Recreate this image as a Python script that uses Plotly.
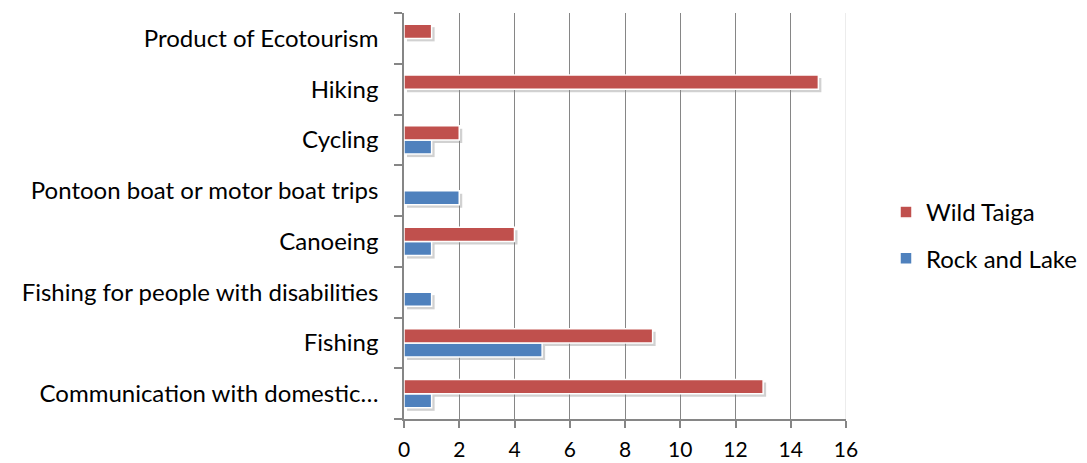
import plotly.graph_objects as go

# Activities, listed bottom-to-top as plotted
categories = [
    "Communication with domestic…",
    "Fishing",
    "Fishing for people with disabilities",
    "Canoeing",
    "Pontoon boat or motor boat trips",
    "Cycling",
    "Hiking",
    "Product of Ecotourism",
]
wild_taiga = [13, 9, 0, 4, 0, 2, 15, 1]
rock_and_lake = [1, 5, 1, 1, 2, 1, 0, 0]
x_ticks = [0, 2, 4, 6, 8, 10, 12, 14, 16]

RED = "#C0504D"
BLUE = "#4F81BD"
GRID = "#868686"
SHADOW = "rgba(0,0,0,0.18)"
FONT = "Lato"
FSIZE = 24

# Pixel geometry: main plot area plus a small drop-shadow offset
L, T = 404, 13
PW, PH = 442, 406
DX, DY = 3, 3
W, H = 1087, 463
AW, AH = PW + DX, PH + DY

fig = go.Figure()

# Drop shadows: same bars in a subplot nudged right and down, drawn first
for vals in (rock_and_lake, wild_taiga):
    fig.add_trace(go.Bar(
        y=categories, x=vals, orientation="h",
        marker=dict(color=SHADOW, line=dict(width=0)),
        xaxis="x", yaxis="y", showlegend=False, hoverinfo="skip",
    ))

# Plotly stacks grouped horizontal bars bottom-up, so the lower bar goes first
fig.add_trace(go.Bar(
    y=categories, x=rock_and_lake, orientation="h", name="Rock and Lake",
    marker=dict(color=BLUE, line=dict(color="white", width=1.5)),
    xaxis="x2", yaxis="y2", legendgroup="rl", legendrank=2,
))
fig.add_trace(go.Bar(
    y=categories, x=wild_taiga, orientation="h", name="Wild Taiga",
    marker=dict(color=RED, line=dict(color="white", width=1.5)),
    xaxis="x2", yaxis="y2", legendgroup="wt", legendrank=1,
))

hidden = dict(visible=False, showgrid=False, zeroline=False, fixedrange=True,
              automargin=False)

fig.update_layout(
    width=W, height=H,
    margin=dict(l=L, r=W - L - AW, t=T, b=H - T - AH, autoexpand=False),
    paper_bgcolor="white", plot_bgcolor="rgba(0,0,0,0)",
    barmode="group", bargap=0.44, bargroupgap=0.0,
    font=dict(family=FONT, size=FSIZE, color="black"),
    showlegend=True,
    legend=dict(
        x=(886 - L) / AW, y=(T + AH - 235.5) / AH, xanchor="left", yanchor="middle",
        traceorder="grouped", tracegroupgap=12,
        font=dict(family=FONT, size=FSIZE, color="black"),
        bgcolor="rgba(0,0,0,0)",
    ),
    xaxis=dict(domain=[DX / AW, 1], range=[0, 16], anchor="y", **hidden),
    yaxis=dict(domain=[0, PH / AH], categoryorder="array", categoryarray=categories,
               anchor="x", **hidden),
    xaxis2=dict(
        domain=[0, PW / AW], anchor="y2",
        range=[0, 16], tickvals=x_ticks, ticktext=[str(v) for v in x_ticks],
        tickfont=dict(family=FONT, size=21, color="black"),
        showgrid=True, gridcolor=GRID, gridwidth=1,
        showline=True, linecolor=GRID, linewidth=1.5,
        ticks="outside", ticklen=7, tickcolor=GRID, tickwidth=1.5,
        ticklabelstandoff=4, zeroline=False, fixedrange=True, automargin=False,
    ),
    yaxis2=dict(
        domain=[DY / AH, 1], anchor="x2",
        categoryorder="array", categoryarray=categories,
        showline=True, linecolor=GRID, linewidth=1.5,
        ticks="outside", ticklen=8, tickcolor=GRID, tickwidth=1.5,
        tickson="boundaries", ticklabelstandoff=19,
        showgrid=False, zeroline=False, fixedrange=True, automargin=False,
    ),
)

# The outer edge of the plot at 16 is only a faint line
fig.add_shape(type="line", xref="x2", yref="y2 domain", x0=16, x1=16, y0=0, y1=1,
              line=dict(color="#E6E6E6", width=1.5), layer="above")

fig.write_html("out.html")
